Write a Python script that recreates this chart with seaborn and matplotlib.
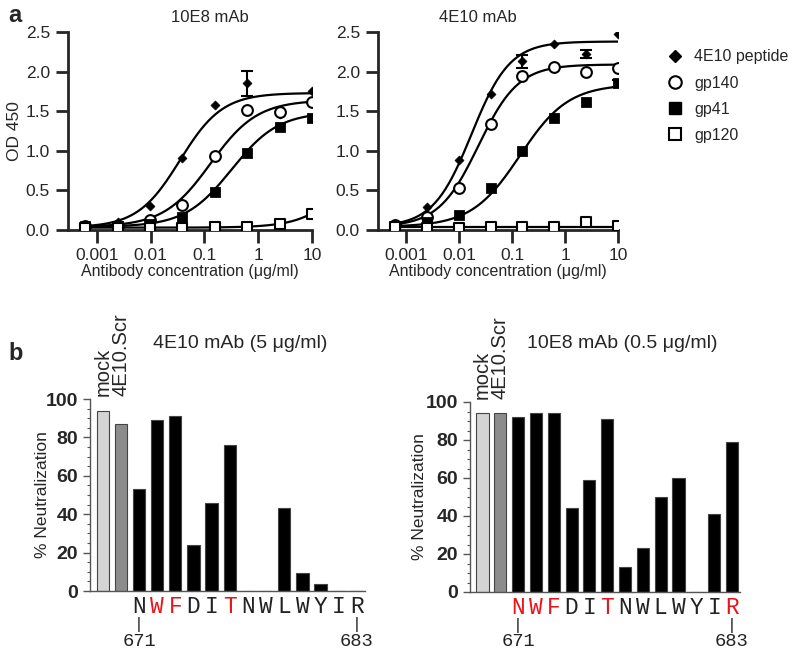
import numpy as np
import pandas as pd
import matplotlib
matplotlib.use('Agg')
import matplotlib.pyplot as plt
from matplotlib.lines import Line2D
from matplotlib.ticker import LogLocator, NullFormatter, MultipleLocator
import seaborn as sns

# ---- panel a: ELISA binding (OD 450) ----
conc = [0.00061, 0.00244, 0.0098, 0.039, 0.156, 0.625, 2.5, 10]
series_names = ['4E10 peptide', 'gp140', 'gp41', 'gp120']

e8_peptide = [0.05, 0.10, 0.30, 0.91, 1.58, 1.85, 1.46, 1.75]
e8_gp140 = [0.05, 0.05, 0.12, 0.31, 0.94, 1.51, 1.49, 1.61]
e8_gp41 = [0.05, 0.05, 0.07, 0.16, 0.48, 0.97, 1.30, 1.42]
e8_gp120 = [0.03, 0.03, 0.03, 0.03, 0.04, 0.04, 0.07, 0.20]
e8_peptide_err = [0, 0, 0, 0, 0, 0.16, 0, 0]

e10_peptide = [0.07, 0.29, 0.89, 1.72, 2.13, 2.35, 2.22, 2.47]
e10_gp140 = [0.06, 0.17, 0.53, 1.34, 1.95, 2.06, 1.99, 2.04]
e10_gp41 = [0.05, 0.10, 0.19, 0.53, 1.00, 1.41, 1.62, 1.85]
e10_gp120 = [0.04, 0.03, 0.03, 0.04, 0.04, 0.04, 0.10, 0.05]
e10_peptide_err = [0, 0, 0, 0, 0.08, 0, 0.05, 0]
e10_gp41_err = [0, 0, 0, 0, 0, 0, 0, 0.05]

# fitted sigmoid parameters: (bottom, top, EC50, hill)
e8_fits = [(0.03, 1.70, 0.035, 1.1), (0.04, 1.60, 0.13, 1.0),
           (0.04, 1.45, 0.32, 1.0), (0.03, 2.0, 100.0, 1.0)]
e10_fits = [(0.04, 2.34, 0.017, 1.2), (0.04, 2.05, 0.023, 1.15),
            (0.04, 1.80, 0.14, 0.95), (0.04, 0.0, 1.0, 1.0)]

# ---- panel b: neutralization ----
residues = list("NWFDITNWLWYIR")
bar_labels = ['mock', '4E10.Scr'] + residues
neut_4e10 = [94, 87, 53, 89, 91, 24, 46, 76, 0, 0, 43, 9.5, 3.5, 0, 0]
neut_10e8 = [94, 94, 92, 94, 94, 44, 59, 91, 13, 23, 50, 60, 0, 41, 79]
red_4e10 = [1, 2, 5]
red_10e8 = [0, 1, 2, 5, 12]

sns.set_style('ticks')
plt.rcParams['font.family'] = ['Liberation Sans', 'DejaVu Sans']

fig = plt.figure(figsize=(8, 6.56), dpi=100)
W, H = 800, 656


def px_axes(x0, y0, x1, y1):
    return fig.add_axes([x0 / W, 1 - y1 / H, (x1 - x0) / W, (y1 - y0) / H])


def sigmoid(x, b, t, ec, h):
    return b + t / (1 + (ec / x) ** h)


markers = [dict(marker='D', s=22, color='black', edgecolor='black'),
           dict(marker='o', s=60, facecolor='white', edgecolor='black', linewidth=1.5),
           dict(marker='s', s=50, color='black', edgecolor='black'),
           dict(marker='s', s=50, facecolor='white', edgecolor='black', linewidth=1.5)]


def binding_panel(ax, series, fits, errs):
    xs = np.logspace(np.log10(conc[0]), 1, 200)
    for p in fits:
        sns.lineplot(x=xs, y=sigmoid(xs, *p), ax=ax, color='black', lw=1.6, zorder=2)
    for vals, mk in zip(series, markers):
        sns.scatterplot(x=conc, y=vals, ax=ax, zorder=3, **mk)
    for idx, err in errs:
        vals = series[idx]
        m = [i for i, e in enumerate(err) if e > 0]
        ax.errorbar([conc[i] for i in m], [vals[i] for i in m], yerr=[err[i] for i in m],
                    fmt='none', ecolor='black', capsize=4, elinewidth=1.5, capthick=1.5, zorder=4)
    ax.set_xscale('log')
    ax.set_xlim(0.00029, 10)
    ax.set_ylim(0, 2.5)
    ax.set_xticks([0.001, 0.01, 0.1, 1, 10])
    ax.set_xticklabels(['0.001', '0.01', '0.1', '1', '10'])
    ax.xaxis.set_minor_locator(LogLocator(base=10, subs=np.arange(2, 10)))
    ax.xaxis.set_minor_formatter(NullFormatter())
    ax.set_yticks(np.arange(0, 2.51, 0.5))
    ax.set_yticklabels([f'{v:.1f}' for v in np.arange(0, 2.51, 0.5)])
    sns.despine(ax=ax)
    for s in ['left', 'bottom']:
        ax.spines[s].set_linewidth(2)
    ax.tick_params(which='major', length=9, width=2, labelsize=12.5, direction='out', pad=4)
    ax.tick_params(which='minor', length=5, width=1.2)
    ax.set_xlabel('Antibody concentration (\u03bcg/ml)', fontsize=11.5, labelpad=1)
    ax.set_ylabel('')


ax1 = px_axes(68, 32, 312, 230)
binding_panel(ax1, [e8_peptide, e8_gp140, e8_gp41, e8_gp120], e8_fits, [(0, e8_peptide_err)])
ax1.set_ylabel('OD 450', fontsize=12.5)
ax1.yaxis.set_label_coords(-0.19, 0.5)

ax2 = px_axes(378, 32, 618, 230)
binding_panel(ax2, [e10_peptide, e10_gp140, e10_gp41, e10_gp120], e10_fits,
              [(0, e10_peptide_err), (2, e10_gp41_err)])

handles = [Line2D([], [], ls='none', marker='D', ms=6, color='black'),
           Line2D([], [], ls='none', marker='o', ms=9, mfc='white', mec='black', mew=1.5),
           Line2D([], [], ls='none', marker='s', ms=8, color='black'),
           Line2D([], [], ls='none', marker='s', ms=8, mfc='white', mec='black', mew=1.5)]
fig.legend(handles, series_names, loc='upper left', bbox_to_anchor=(651 / W, 1 - 35 / H),
           frameon=False, fontsize=11.5, labelspacing=0.7, handletextpad=0.6, handlelength=1.2)

fig.text(210 / W, 1 - 18 / H, '10E8 mAb', ha='center', va='center', fontsize=12)
fig.text(478 / W, 1 - 18 / H, '4E10 mAb', ha='center', va='center', fontsize=12)
fig.text(8 / W, 1 - 16 / H, 'a', ha='left', va='center', fontsize=17, fontweight='bold')
fig.text(8 / W, 1 - 353 / H, 'b', ha='left', va='center', fontsize=17, fontweight='bold')

kind = ['mock', 'scr'] + ['mut'] * len(residues)
palette = {'mock': '#d4d4d4', 'scr': '#8c8c8c', 'mut': 'black'}


def neut_panel(ax, vals, reds, title, title_x, ylab_x):
    df = pd.DataFrame({'pos': [str(i) for i in range(len(vals))], 'val': vals, 'kind': kind})
    sns.barplot(data=df, x='pos', y='val', hue='kind', palette=palette, dodge=False,
                legend=False, width=0.68, ax=ax, edgecolor='#444444', linewidth=0.8)
    ax.set_xlim(-0.7, len(vals) - 0.55)
    ax.set_ylim(0, 100)
    ax.yaxis.set_major_locator(MultipleLocator(20))
    ax.yaxis.set_minor_locator(MultipleLocator(5))
    ax.set_xticks([])
    ax.set_xlabel('')
    ax.set_ylabel('% Neutralization', fontsize=12.5)
    ax.yaxis.set_label_coords(ylab_x, 0.5)
    sns.despine(ax=ax)
    for s in ['left', 'bottom']:
        ax.spines[s].set_linewidth(1.0)
        ax.spines[s].set_color('#555555')
    ax.tick_params(axis='y', which='major', length=5, width=1, color='#555555', labelsize=14)
    ax.tick_params(axis='y', which='minor', length=2.5, width=0.8, color='#555555')
    for lab in ax.get_yticklabels():
        lab.set_fontweight('bold')
    for i, lab in enumerate(bar_labels[:2]):
        ax.annotate(lab, xy=(i, 1), xycoords=('data', 'axes fraction'), xytext=(0, 2),
                    textcoords='offset points', rotation=90, ha='center', va='bottom', fontsize=14.5)
    for j, r in enumerate(residues):
        ax.annotate(r, xy=(j + 2, 0), xycoords=('data', 'axes fraction'), xytext=(0, -11),
                    textcoords='offset points', ha='center', va='center', fontsize=16.5,
                    family='Liberation Mono', color='#e8151b' if j in reds else '#222222')
    for j, num in [(0, '671'), (len(residues) - 1, '683')]:
        ax.annotate('|', xy=(j + 2, 0), xycoords=('data', 'axes fraction'), xytext=(0, -24),
                    textcoords='offset points', ha='center', va='center', fontsize=12,
                    family='Liberation Mono', color='#222222')
        ax.annotate(num, xy=(j + 2, 0), xycoords=('data', 'axes fraction'), xytext=(0, -36),
                    textcoords='offset points', ha='center', va='center', fontsize=13.5,
                    family='Liberation Mono', color='#222222')
    fig.text(title_x / W, 1 - 343 / H, title, ha='center', va='center', fontsize=14)


ax3 = px_axes(90, 399, 365, 591)
neut_panel(ax3, neut_4e10, red_4e10, '4E10 mAb (5 \u03bcg/ml)', 240, -0.145)

ax4 = px_axes(470, 402, 740, 592)
neut_panel(ax4, neut_10e8, red_10e8, '10E8 mAb (0.5 \u03bcg/ml)', 622, -0.16)

fig.savefig('out.png', dpi=100)
